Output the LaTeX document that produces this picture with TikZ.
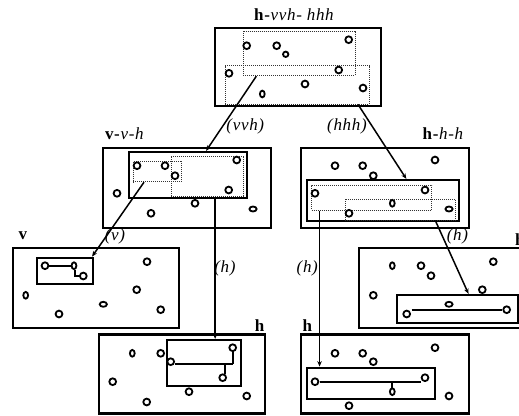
\documentclass[tikz,border=0pt]{standalone}
\usepackage{fontspec}
\setmainfont{Liberation Serif}
\newfontfamily\lblfont[LetterSpace=4]{Liberation Serif}
\usetikzlibrary{arrows.meta,fit,calc}
\newcommand\myc[1]{\draw[circ] (#1) circle[radius=3.4pt];}
\newcommand\mys[1]{\draw[circ] (#1) circle[radius=2.7pt];}
\newcommand\myv[1]{\draw[circ] (#1) ellipse[x radius=2.4pt,y radius=3.4pt];}
\newcommand\myh[1]{\draw[circ] (#1) ellipse[x radius=3.6pt,y radius=2.5pt];}
\begin{document}
\begin{tikzpicture}[x=1pt,y=-1pt,
  obox/.style={draw, line width=2.4pt, inner sep=0pt},
  ibox/.style={draw, line width=2.2pt, inner sep=0pt},
  dbox/.style={draw=black!80, densely dotted, line width=1pt, inner sep=0pt},
  circ/.style={line width=1.8pt},
  link/.style={line width=1.8pt},
  conn/.style={line width=1.5pt, -{Stealth[length=5.5pt,width=4.5pt]}},
  lab/.style={font=\fontsize{17}{17}\selectfont\lblfont\itshape, inner sep=0pt},
  ttl/.style={font=\fontsize{17}{17}\selectfont\lblfont, inner sep=0pt, anchor=base},
]
\useasboundingbox (0,0) rectangle (519,415);

% ---------- top box ----------
\node[obox, fit={(215,28) (381,106)}] (T) {};
\node[dbox, fit={(243.3,31) (355,75.7)}] (T1) {};
\node[dbox, fit={(225.3,65.7) (369.3,104)}] (T2) {};
\node[ttl] (tT) at (294.3,20.5) {\textbf{h-}\textit{vvh- hhh}};
\myc{246.7,45.7} \myc{276.7,45.7} \mys{285.7,54.3} \myc{348.7,39.7}
\myc{229,73.3} \myc{338.7,70} \myc{305,84} \myv{262.3,94} \myc{363,88}

% ---------- v-v-h box ----------
\node[obox, fit={(102.7,147.7) (270.7,228)}] (V) {};
\node[ibox, fit={(128.7,152) (246.7,198)}] (VI) {};
\node[dbox, fit={(133.3,161) (181.7,181.7)}] (VA) {};
\node[dbox, fit={(171.3,156) (243.7,196)}] (VB) {};
\node[ttl] (tV) at (124.7,139.3) {\textbf{v-}\textit{v-h}};
\myc{137,165.7} \myc{165,165.7} \myc{175,175.7} \myc{236.7,160}
\myc{228.7,190} \myc{117,193.3} \myc{195,203.3} \myc{151,213.3} \myh{253,209}

% ---------- h-h-h box ----------
\node[obox, fit={(301,147.7) (469,228)}] (H) {};
\node[ibox, fit={(306.7,180) (459,221.3)}] (HI) {};
\node[dbox, fit={(311.7,185) (431.7,210)}] (HC) {};
\node[dbox, fit={(345,199.3) (455.7,220)}] (HD) {};
\node[ttl] (tH) at (443.3,139.3) {\textbf{h-}\textit{h-h}};
\myc{335,165.7} \myc{362.7,165.7} \myc{373.3,175.7} \myc{435,160}
\myc{315,193.3} \myc{425,190} \myv{392.3,203.3} \myc{349,213.3} \myh{449,209}

% ---------- v box ----------
\node[obox, fit={(12.7,247.7) (179,327.7)}] (B) {};
\node[ibox, fit={(36.7,257.7) (92.7,284)}] (BI) {};
\node[ttl] (tB) at (23.3,239.3) {\textbf{v}};
\myc{45,265.7} \myv{74,265.7} \myc{83.3,276} \myc{147,261.7}
\myc{136.7,289.7} \myv{25.7,295.3} \myh{103.3,304.3} \myc{59,314} \myc{160.7,309.7}
\draw[link] (49.3,265.7) -- (71.3,265.7);
\draw[link] (75.3,269.5) -- (75.3,276.3) -- (80,276.3);

% ---------- right h box (cut off at the edge, as in the reference) ----------
\node[obox, fit={(359,247.7) (526,327.7)}] (R) {};
\node[ibox, fit={(396.7,295) (517.7,323.3)}] (RI) {};
\node[ttl, anchor=base west] (tR) at (515,245) {\textbf{h}};
\myv{392.3,265.7} \myc{421,265.7} \myc{431,275.7} \myc{493.3,261.7}
\myc{373.3,295.3} \myc{482.3,289.7} \myh{449,304.3} \myc{406.7,314} \myc{506.7,309.7}
\draw[link] (411.7,310) -- (502.3,310);

% ---------- bottom-left h box ----------
\node[obox, fit={(99,334.3) (265,413.3)}] (L) {};
\node[ibox, fit={(166.7,340) (240.7,386)}] (LI) {};
\node[ttl] (tL) at (260,331.7) {\textbf{h}};
\myv{132.3,353.3} \myc{160.7,353.3} \myc{170.7,361.7} \myc{232.7,347.7}
\myc{222.7,377.7} \myc{112.7,381.7} \myc{189,391.7} \myc{146.7,402} \myc{246.7,396}
\draw[link] (175,364) -- (232.7,364);
\draw[link] (232.7,351.2) -- (232.7,364);
\draw[link] (225,364) -- (225,374.2);

% ---------- bottom-right h box ----------
\node[obox, fit={(301,334.3) (469,413.3)}] (M) {};
\node[ibox, fit={(306.7,367.7) (435,399.3)}] (MI) {};
\node[ttl] (tM) at (307.7,331.7) {\textbf{h}};
\myc{335,353.3} \myc{362.7,353.3} \myc{373.3,361.7} \myc{435,347.7}
\myc{315,381.7} \myc{425,377.7} \myv{392.3,391.7} \myc{349,405.7} \myc{449,396}
\draw[link] (319.7,381.7) -- (420.7,381.7);
\draw[link] (392.3,381.7) -- (392.3,388.5);

% ---------- connectors ----------
\draw[conn] ($(T1.south west)!0.12!(T1.south east)$) -- ($(VI.north west)!0.653!(VI.north east)$);
\draw[conn] ($(T2.south west)!0.919!(T2.south east)$) -- ($(HI.north west)!0.652!(HI.north east)$);
\draw[conn] ($(VA.south west)!0.227!(VA.south east)$) -- ($(BI.north west)!0.97!(BI.north east)$);
\coordinate (s4) at ($(VB.south west)!0.604!(VB.south east)$);
\draw[conn] (s4) -- (s4 |- LI.north);
\coordinate (s5) at ($(HC.south west)!0.069!(HC.south east)$);
\draw[conn] (s5) -- (s5 |- MI.north);
\draw[conn] ($(HD.south west)!0.813!(HD.south east)$) -- ($(RI.north west)!0.592!(RI.north east)$);

% ---------- connector labels ----------
\node[lab] (l1) at (245.3,126) {(vvh)};
\node[lab] (l2) at (347,126) {(hhh)};
\node[lab] (l3) at (115,236) {(v)};
\node[lab] (l4) at (225,268.3) {(h)};
\node[lab] (l5) at (307.3,268.3) {(h)};
\node[lab] (l6) at (457.5,236) {(h)};
\end{tikzpicture}
\end{document}
